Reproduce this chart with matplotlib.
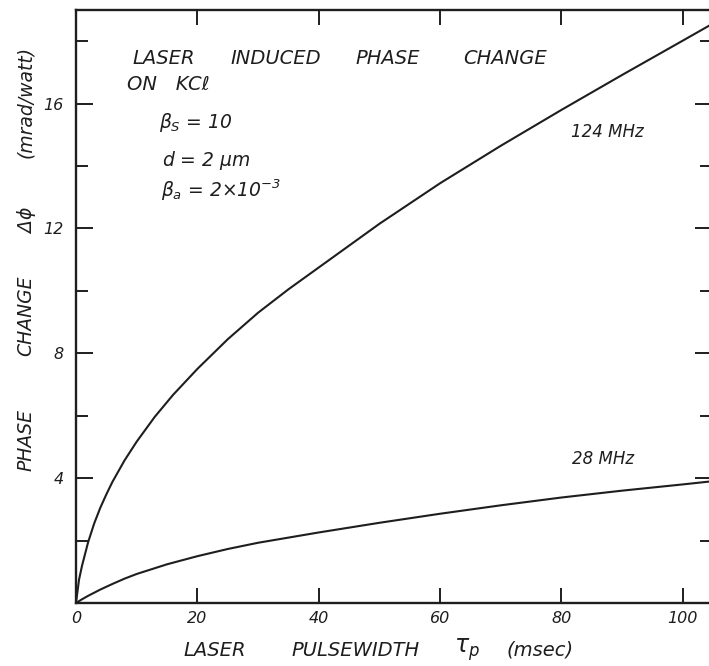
import matplotlib
matplotlib.use("Agg")
import matplotlib.pyplot as plt

plt.rcParams["font.family"] = ["DejaVu Sans"]
plt.rcParams["font.style"] = "italic"
plt.rcParams["mathtext.fontset"] = "custom"
plt.rcParams["mathtext.rm"] = "DejaVu Sans:italic"
plt.rcParams["mathtext.it"] = "DejaVu Sans:italic"
plt.rcParams["mathtext.default"] = "it"

# Phase change (mrad/watt) versus laser pulsewidth (msec)
pulse_124 = [0, 0.5, 1, 2, 3, 4, 5, 6, 8, 10, 13, 16, 20, 25, 30, 35, 40,
             50, 60, 70, 80, 90, 100, 104.8]
phase_124 = [0, 0.75, 1.2, 1.95, 2.55, 3.05, 3.48, 3.88, 4.57, 5.17, 5.97,
             6.67, 7.5, 8.45, 9.3, 10.05, 10.75, 12.15, 13.45, 14.65, 15.8,
             16.92, 18.02, 18.55]

pulse_28 = [0, 1, 2, 4, 6, 8, 10, 15, 20, 25, 30, 40, 50, 60, 70, 80,
            90, 100, 104.8]
phase_28 = [0, 0.12, 0.23, 0.43, 0.61, 0.78, 0.93, 1.24, 1.5, 1.73, 1.93,
            2.26, 2.57, 2.86, 3.13, 3.38, 3.6, 3.8, 3.9]

x_ticks = [0, 20, 40, 60, 80, 100]
x_tick_labels = ["0", "20", "40", "60", "80", "100"]
y_major = [4, 8, 12, 16]
y_major_labels = ["4", "8", "12", "16"]
y_minor = [2, 6, 10, 14, 18]

ink = "#1e1e1e"
W, H = 709, 666

fig = plt.figure(figsize=(W / 100, H / 100), dpi=100)
fig.patch.set_facecolor("white")
ax = fig.add_axes([76 / W, 63 / H, 636 / W, 593 / H])
ax.set_xlim(0, 104.8)
ax.set_ylim(0, 19)

ax.plot(pulse_124, phase_124, color=ink, lw=1.5, solid_capstyle="round",
        solid_joinstyle="round")
ax.plot(pulse_28, phase_28, color=ink, lw=1.5, solid_capstyle="round",
        solid_joinstyle="round")

for sp in ax.spines.values():
    sp.set_color(ink)
    sp.set_linewidth(1.7)

ax.set_xticks(x_ticks)
ax.set_xticklabels(x_tick_labels)
ax.set_yticks(y_major)
ax.set_yticklabels(y_major_labels)
ax.set_yticks(y_minor, minor=True)

ax.tick_params(axis="both", which="both", direction="in", top=True,
               right=True, color=ink, width=1.4, labelcolor=ink)
ax.tick_params(axis="x", which="major", length=11, pad=6, labelsize=11.5)
ax.tick_params(axis="y", which="major", length=12, pad=9, labelsize=11.5)
ax.tick_params(axis="y", which="minor", length=8.5)


def put(s, x, y, size=13.5, ha="center", **kw):
    fig.text(x / W, 1 - y / H, s, ha=ha, va="center", color=ink,
             fontsize=size, **kw)


# heading block
for word, cx in [("LASER", 164), ("INDUCED", 276), ("PHASE", 388),
                 ("CHANGE", 505)]:
    put(word, cx, 58, size=14)
put("ON   KCℓ", 127, 84, ha="left", size=14)
put(r"$\beta_S$ = 10", 159, 122, ha="left")
put(r"$d$ = 2 $\mu$m", 162, 160, ha="left")
put(r"$\beta_a$ = 2$\times$10$^{-3}$", 161, 190, ha="left")

# curve labels
put("124 MHz", 607, 132, size=12)
put("28 MHz", 603, 459, size=12)

# y-axis title, word by word
for word, cy in [("PHASE", 440), ("CHANGE", 316), (r"$\Delta\phi$", 220),
                 ("(mrad/watt)", 102)]:
    put(word, 26, cy, rotation=90)

# x-axis title, word by word
for word, cx in [("LASER", 215), ("PULSEWIDTH", 356), (r"$\tau_p$", 467),
                 ("(msec)", 540)]:
    put(word, cx, 650, size=14 if word != r"$\tau_p$" else 17)

fig.savefig("out.png", dpi=100, facecolor="white")
